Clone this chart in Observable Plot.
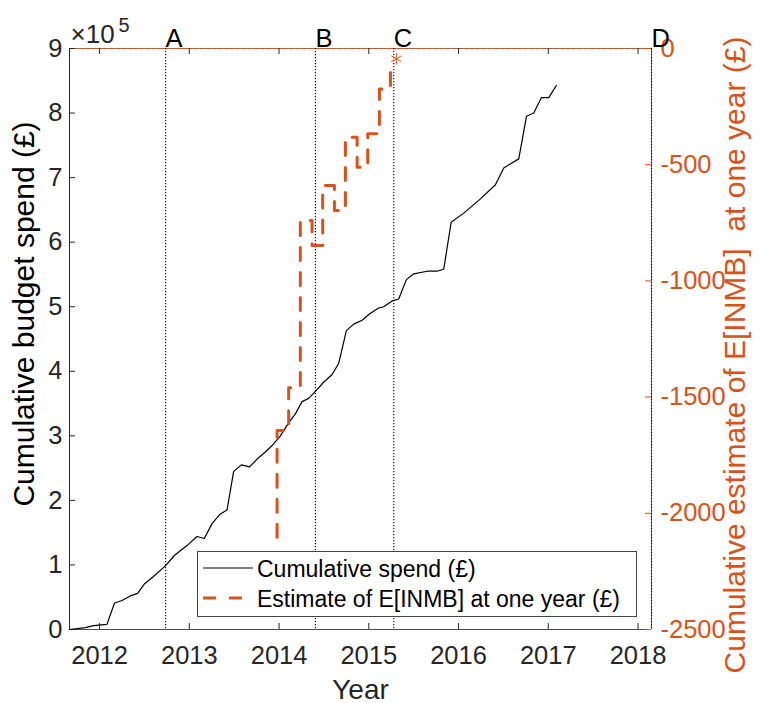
<!DOCTYPE html>
<html><head><meta charset="utf-8">
<script src="https://cdn.jsdelivr.net/npm/d3@7"></script>
<script src="https://cdn.jsdelivr.net/npm/@observablehq/plot@0.6"></script>
<style>
body{margin:0;background:#fff;font-family:"Liberation Sans",Arial,sans-serif;}
#wrap{position:relative;width:768px;height:703px;overflow:hidden;}
#legend{position:absolute;left:197px;top:551px;}
</style></head>
<body><div id="wrap"></div>
<script>
// ---- data ----
const spendYear = [2011.666, 2011.841, 2011.933, 2012.082, 2012.167, 2012.250, 2012.342, 2012.424, 2012.502, 2012.591,
  2012.736, 2012.836, 2012.974, 2013.086, 2013.167, 2013.253, 2013.338, 2013.420, 2013.494, 2013.580,
  2013.672, 2013.755, 2013.847, 2013.922, 2014.015, 2014.107, 2014.182, 2014.256, 2014.330, 2014.405,
  2014.497, 2014.591, 2014.664, 2014.750, 2014.832, 2014.925, 2015.010, 2015.110, 2015.166, 2015.260,
  2015.333, 2015.419, 2015.500, 2015.650, 2015.761, 2015.835, 2015.918, 2016.058, 2016.244, 2016.411,
  2016.504, 2016.586, 2016.671, 2016.757, 2016.838, 2016.924, 2017.006, 2017.091];
const spend = [0, 3000, 6000, 8000, 41000, 45000, 52000, 56000, 71000, 81000,
  99000, 115000, 130000, 144000, 141000, 164000, 178000, 185000, 245000, 255000,
  252000, 264000, 275000, 285000, 300000, 320000, 334000, 353000, 358000, 369000,
  383000, 395000, 412000, 463000, 473000, 479000, 489000, 498000, 500000, 509000,
  512000, 542000, 551000, 555000, 555000, 558000, 631000, 645000, 667000, 689000,
  715000, 722000, 729000, 795000, 800000, 824000, 824000, 843000];

const inmbYear = [2013.978, 2013.978, 2014.107, 2014.237, 2014.368, 2014.486, 2014.617, 2014.739, 2014.870, 2014.988, 2015.118, 2015.241];
const inmb = [-2103, -1644, -1460, -740, -848, -590, -697, -382, -511, -367, -174, -52];
const finalYear = [2015.307];
const finalInmb = [-44];

const eventLabels = ["A", "B", "C", "D"];
const eventYears = [2012.736, 2014.405, 2015.278, 2018.15];

const xTickYears = [2012, 2013, 2014, 2015, 2016, 2017, 2018];
const leftTicks = [0, 1, 2, 3, 4, 5, 6, 7, 8, 9];          // x 10^5
const rightTicks = [-2500, -2000, -1500, -1000, -500, 0];

const xMin = 2011.665, xMax = 2018.15;
const leftMax = 9e5;
const rightMin = -2500, rightMax = 0;

// ---- build ----
const orange = "#D95319";
const ink = "#262626";
const toLeft = v => (v - rightMin) / (rightMax - rightMin) * leftMax;

const spendData = spendYear.map((t, i) => ({t, v: spend[i]}));
const inmbData = inmbYear.map((t, i) => ({t, v: toLeft(inmb[i])}));
const finalData = finalYear.map((t, i) => ({t, v: toLeft(finalInmb[i])}));
const events = eventYears.map((t, i) => ({t, label: eventLabels[i]}));
const leftPos = leftTicks.map(d => d * 1e5);
const rightPos = rightTicks.map(toLeft);

const W = 768, H = 703, mL = 69, mR = 117, mT = 48, mB = 74;
const fw = W - mL - mR, fh = H - mT - mB;
const FS = 25.5;

const chart = Plot.plot({
  width: W, height: H,
  marginLeft: mL, marginRight: mR, marginTop: mT, marginBottom: mB,
  style: {fontFamily: '"Liberation Sans", Arial, sans-serif', fontSize: FS + "px", color: ink, background: "white", overflow: "visible"},
  x: {domain: [xMin, xMax]},
  y: {domain: [0, leftMax]},
  marks: [
    // frame
    Plot.ruleX([xMin], {stroke: ink, strokeWidth: 1}),
    Plot.ruleY([0], {stroke: "#4d4d4d", strokeWidth: 1.2}),
    Plot.ruleX([xMax], {stroke: orange, strokeWidth: 1}),
    Plot.ruleY([leftMax], {stroke: orange, strokeWidth: 1}),
    Plot.ruleY([leftMax], {stroke: "#777", strokeWidth: 1, strokeDasharray: "1,2"}),
    // ticks (inward)
    Plot.tickY(leftPos, {y: d => d, insetRight: fw - 6, stroke: ink}),
    Plot.tickY(rightPos, {y: d => d, insetLeft: fw - 6, stroke: orange}),
    Plot.tickX(xTickYears, {x: d => d, insetTop: fh - 6, stroke: ink}),
    Plot.tickX(xTickYears, {x: d => d, insetBottom: fh - 6, stroke: ink}),
    // tick labels
    Plot.axisX(xTickYears, {tickSize: 0, tickPadding: 16, tickFormat: d => String(d), label: null, fontSize: FS}),
    Plot.axisY(leftPos, {anchor: "left", tickSize: 0, tickPadding: 7, tickFormat: d => String(Math.round(d / 1e5)), label: null, fontSize: FS}),
    Plot.axisY(rightPos, {anchor: "right", tickSize: 0, tickPadding: 9, tickFormat: d => String(Math.round(d / leftMax * (rightMax - rightMin) + rightMin)), label: null, color: orange, fontSize: FS}),
    // event lines
    Plot.ruleX(events, {x: "t", stroke: "#000", strokeWidth: 1.1, strokeDasharray: "1.2,1.8"}),
    Plot.text(events, {x: "t", frameAnchor: "top", text: "label", textAnchor: "start", lineAnchor: "bottom", dy: -2, fontSize: FS, fill: "#000"}),
    // data
    Plot.line(spendData, {x: "t", y: "v", stroke: "#000", strokeWidth: 1.2}),
    Plot.line(inmbData, {x: "t", y: "v", curve: "step-after", stroke: orange, strokeWidth: 3, strokeDasharray: "13,12"}),
    Plot.dot(finalData, {x: "t", y: "v", symbol: "asterisk", r: 5.5, stroke: orange, strokeWidth: 1}),
    // exponent
    Plot.text(["×10"], {frameAnchor: "top-left", text: d => d, textAnchor: "start", lineAnchor: "bottom", dx: 1, dy: -6, fontSize: 26, fill: ink}),
    Plot.text(["5"], {frameAnchor: "top-left", text: d => d, textAnchor: "start", lineAnchor: "bottom", dx: 49, dy: -17, fontSize: 20, fill: ink}),
    // axis titles
    Plot.text(["Year"], {frameAnchor: "bottom", text: d => d, textAnchor: "middle", lineAnchor: "bottom", dy: 69, fontSize: 28, fill: ink}),
    Plot.text(["Cumulative budget spend (£)"], {frameAnchor: "left", text: d => d, rotate: -90, textAnchor: "middle", lineAnchor: "bottom", dx: -36, dy: -25, fontSize: 30, fill: "#000"}),
    Plot.text(["Cumulative estimate of E[INMB]  at one year (£)"], {frameAnchor: "right", text: d => d, rotate: -90, textAnchor: "middle", lineAnchor: "bottom", dx: 93, dy: 16, fontSize: 30, fill: orange})
  ]
});

const wrap = document.getElementById("wrap");
wrap.appendChild(chart);

// legend
const legendItems = [
  {label: "Cumulative spend (£)", stroke: "#000", width: 1.2, dash: null},
  {label: "Estimate of E[INMB] at one year (£)", stroke: orange, width: 3, dash: "13,13"}
];
const lg = d3.select(wrap).append("svg").attr("id", "legend").attr("width", 440).attr("height", 67)
  .style("font-family", '"Liberation Sans", Arial, sans-serif');
lg.append("rect").attr("x", 0.5).attr("y", 0.5).attr("width", 439).attr("height", 65).attr("fill", "#fff").attr("stroke", "#444").attr("stroke-width", 1);
legendItems.forEach((it, i) => {
  const yc = 17 + i * 30;
  lg.append("line").attr("x1", 6).attr("x2", 56).attr("y1", yc).attr("y2", yc)
    .attr("stroke", it.stroke).attr("stroke-width", it.width).attr("stroke-dasharray", it.dash);
  lg.append("text").attr("x", 60).attr("y", yc + 9).attr("font-size", 23).attr("fill", "#000").text(it.label);
});
</script>
</body></html>
